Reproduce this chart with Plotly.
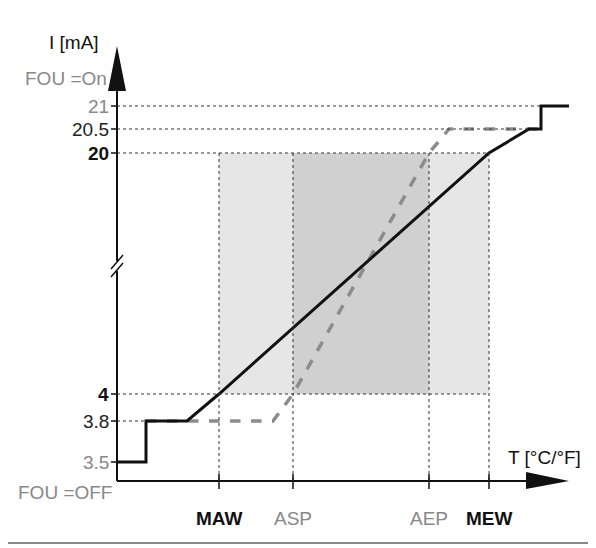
import plotly.graph_objects as go

# Schematic positions (chart coordinates)
x_ticks = ["MAW", "ASP", "AEP", "MEW"]
x_pos = [218, 292, 428, 488]
y_labels = ["21", "20.5", "20", "4", "3.8", "3.5"]
y_pos = [105, 128, 152, 393, 420, 461]
y_colors = ["#888", "#222", "#111", "#111", "#222", "#888"]
y_bold = [False, False, True, True, False, False]
x_colors = ["#111", "#888", "#888", "#111"]
x_bold = [True, False, False, True]

solid_x = [115, 145, 145, 186, 218, 488, 528, 540, 540, 568]
solid_y = [461, 461, 420, 420, 393, 152, 128, 128, 105, 105]
dash_x = [145, 272, 292, 428, 448, 540]
dash_y = [420, 420, 393, 152, 128, 128]

AX, AY = 116, 480
FONT = "Liberation Sans Narrow, Liberation Sans, Arial"
fig = go.Figure()
shapes = []
shapes.append(dict(type="rect", x0=5, y0=5, x1=590, y1=542, line=dict(color="#888", width=2)))
shapes.append(dict(type="rect", x0=x_pos[0], x1=x_pos[3], y0=y_pos[2], y1=y_pos[3], fillcolor="#e6e6e6", line_width=0, layer="below"))
shapes.append(dict(type="rect", x0=x_pos[1], x1=x_pos[2], y0=y_pos[2], y1=y_pos[3], fillcolor="#d0d0d0", line_width=0, layer="below"))
dot = dict(color="#333", width=1, dash="dot")
h_ends = [540, 528, 488, 488, 145]
for yp, xe in zip(y_pos[:5], h_ends):
    shapes.append(dict(type="line", x0=AX, x1=xe, y0=yp, y1=yp, line=dot))
for xp in x_pos:
    shapes.append(dict(type="line", x0=xp, x1=xp, y0=152, y1=AY, line=dot))
for yp in y_pos:
    shapes.append(dict(type="line", x0=AX - 6, x1=AX, y0=yp, y1=yp, line=dict(color="#111", width=1.5)))
for xp in x_pos:
    shapes.append(dict(type="line", x0=xp, x1=xp, y0=AY - 7, y1=AY + 8, line=dict(color="#111", width=1.5)))
shapes.append(dict(type="line", x0=AX, x1=AX, y0=AY, y1=80, line=dict(color="#111", width=2)))
shapes.append(dict(type="line", x0=AX, x1=530, y0=AY, y1=AY, line=dict(color="#111", width=2)))
shapes.append(dict(type="path", path=f"M {AX} 45 L {AX-9} 90 L {AX+9} 90 Z", fillcolor="#111", line_width=0))
shapes.append(dict(type="path", path=f"M 568 {AY} L 525 {AY-9} L 525 {AY+8} Z", fillcolor="#111", line_width=0))
# axis break
shapes.append(dict(type="rect", x0=AX - 4, x1=AX + 4, y0=260, y1=270, fillcolor="white", line_width=0))
for dy in (-4, 4):
    shapes.append(dict(type="line", x0=AX - 6, x1=AX + 6, y0=272 + dy, y1=258 + dy, line=dict(color="#111", width=1.5)))

fig.add_trace(go.Scatter(x=dash_x, y=dash_y, mode="lines", line=dict(color="#8c8c8c", width=3.5, dash="dash"), hoverinfo="skip"))
fig.add_trace(go.Scatter(x=solid_x, y=solid_y, mode="lines", line=dict(color="#111", width=3), hoverinfo="skip"))

ann = []
def txt(x, y, s, color="#111", bold=False, xanchor="right", size=19):
    ann.append(dict(x=x, y=y, text=f"<b>{s}</b>" if bold else s, showarrow=False, xanchor=xanchor, yanchor="middle",
                    font=dict(family=FONT, size=size, color=color)))
for lab, yp, c, b in zip(y_labels, y_pos, y_colors, y_bold):
    txt(110, yp, lab, c, b)
txt(100, 41, "I [mA]")
txt(108, 77, "FOU =On", "#888")
txt(113, 491, "FOU =OFF", "#888")
for lab, xp, c, b in zip(x_ticks, x_pos, x_colors, x_bold):
    txt(xp, 517, lab, c, b, xanchor="center")
txt(582, 456, "T [°C/°F]")

fig.update_layout(width=596, height=548, margin=dict(l=0, r=0, t=0, b=0), showlegend=False,
                  plot_bgcolor="white", paper_bgcolor="white", shapes=shapes, annotations=ann,
                  xaxis=dict(range=[7, 603], visible=False), yaxis=dict(range=[555, 7], visible=False))
fig.write_html("out.html")
